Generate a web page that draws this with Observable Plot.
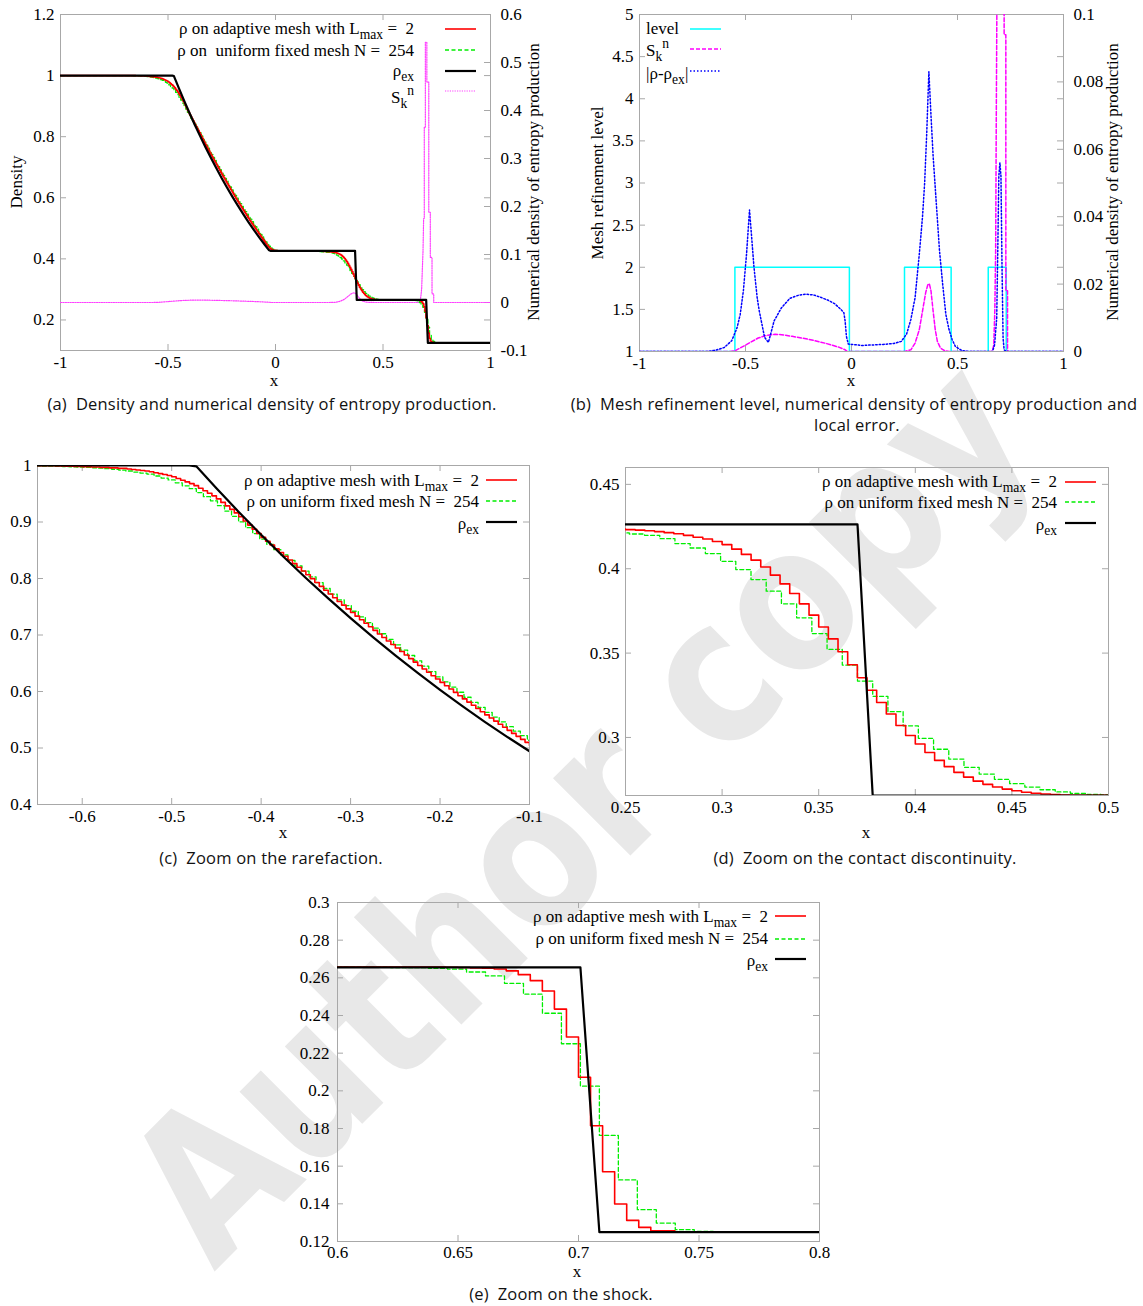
<!DOCTYPE html>
<html><head><meta charset="utf-8">
<script src="https://cdn.jsdelivr.net/npm/d3@7"></script>
<script src="https://cdn.jsdelivr.net/npm/@observablehq/plot@0.6"></script>
<style>
html,body{margin:0;padding:0;background:#fff}
body{width:1143px;height:1306px;position:relative;overflow:hidden}
.lbl{position:absolute;font-family:"Liberation Serif","Times New Roman",serif;font-size:17px;white-space:pre;line-height:1;color:#000}
.lbl sub{font-size:0.8em;vertical-align:-0.38em;line-height:0}
.lbl sup{font-size:0.8em;vertical-align:0.55em;line-height:0}
.cap{position:absolute;font-family:"Open Sans",sans-serif;font-size:16.5px;letter-spacing:0.2px;white-space:pre;line-height:1;color:#111}
svg.abs{position:absolute}
svg.abs text{font-family:"Liberation Serif","Times New Roman",serif}
</style></head><body>
<script>
// ======================= DATA =======================
const h = 2 / 254;                       // uniform mesh cell width (N = 254)
// tick values
const xTicksFull = [-1, -0.5, 0, 0.5, 1];
const yTicksA = [0.2, 0.4, 0.6, 0.8, 1, 1.2];
const y2TicksA = [-0.1, 0, 0.1, 0.2, 0.3, 0.4, 0.5, 0.6];
const yTicksB = [1, 1.5, 2, 2.5, 3, 3.5, 4, 4.5, 5];
const y2TicksB = [0, 0.02, 0.04, 0.06, 0.08, 0.1];
const xTicksC = [-0.6, -0.5, -0.4, -0.3, -0.2, -0.1];
const yTicksC = [0.4, 0.5, 0.6, 0.7, 0.8, 0.9, 1];
const xTicksD = [0.25, 0.3, 0.35, 0.4, 0.45, 0.5];
const yTicksD = [0.3, 0.35, 0.4, 0.45];
const xTicksE = [0.6, 0.65, 0.7, 0.75, 0.8];
const yTicksE = [0.12, 0.14, 0.16, 0.18, 0.2, 0.22, 0.24, 0.26, 0.28, 0.3];

// density on adaptive mesh (L_max = 2): cell values, grouped by mesh blocks
const redCoarseLeft = [0.9999, 0.9998, 0.9997, 0.9995, 0.9992, 0.9989, 0.9985, 0.9980, 0.9974, 0.9966, 0.9958, 0.9950];
const redRarefaction = [
  0.9939, 0.9930, 0.9921, 0.9912, 0.9903, 0.9890, 0.9873, 0.9857, 0.9840, 0.9823,
  0.9800, 0.9770, 0.9740, 0.9710, 0.9680, 0.9643, 0.9598, 0.9553, 0.9508, 0.9463,
  0.9409, 0.9347, 0.9285, 0.9223, 0.9161, 0.9093, 0.9019, 0.8945, 0.8871, 0.8797,
  0.8727, 0.8660, 0.8593, 0.8526, 0.8459, 0.8393, 0.8328, 0.8263, 0.8198, 0.8133,
  0.8066, 0.7997, 0.7929, 0.7861, 0.7792, 0.7725, 0.7659, 0.7594, 0.7528, 0.7462,
  0.7397, 0.7334, 0.7271, 0.7208, 0.7145, 0.7082, 0.7019, 0.6957, 0.6894, 0.6831,
  0.6769, 0.6707, 0.6645, 0.6582, 0.6520, 0.6459, 0.6399, 0.6340, 0.6280, 0.6220,
  0.6161, 0.6102, 0.6044, 0.5985, 0.5926, 0.5869, 0.5812, 0.5756, 0.5699, 0.5642,
  0.5586, 0.5531, 0.5476, 0.5421, 0.5366, 0.5312, 0.5258, 0.5206, 0.5153, 0.5100,
  0.5048, 0.4997, 0.4946, 0.4895, 0.4844, 0.4793, 0.4744, 0.4695, 0.4646, 0.4597,
  0.4547, 0.4496, 0.4448, 0.4403, 0.4365, 0.4335, 0.4311, 0.4294];
const redTail = [0.4278, 0.4270, 0.4267, 0.4265, 0.4264];
const redPreContact = [0.4262, 0.4261, 0.4259, 0.4257, 0.4254, 0.4251, 0.4247, 0.4243, 0.4239, 0.4235];
const redContact = [
  0.4232, 0.4229, 0.4225, 0.4220, 0.4214, 0.4207, 0.4198, 0.4187, 0.4176, 0.4161,
  0.4143, 0.4116, 0.4085, 0.4051, 0.4010, 0.3962, 0.3910, 0.3853, 0.3792, 0.3725,
  0.3655, 0.3584, 0.3508, 0.3431, 0.3354, 0.3280, 0.3207, 0.3139, 0.3071, 0.3012,
  0.2961, 0.2911, 0.2864, 0.2827, 0.2793, 0.2765, 0.2741, 0.2722, 0.2706, 0.2694,
  0.2684, 0.2675, 0.2669, 0.2665, 0.2661, 0.2659];
const redShock = [0.2656, 0.2655, 0.2653, 0.2651, 0.2647, 0.2637, 0.2617, 0.2585, 0.2530, 0.2434,
  0.2286, 0.2072, 0.1815, 0.1570, 0.1399, 0.1312, 0.1275];
const redPostShock = [0.1257, 0.1251];

// density on uniform fixed mesh N = 254: cell values
const greenRarefaction = [ // cells 37..131
  0.9999, 0.9999, 0.9998, 0.9998, 0.9997, 0.9996, 0.9994, 0.9993, 0.9990, 0.9988,
  0.9985, 0.9981, 0.9977, 0.9973, 0.9967, 0.9960, 0.9953, 0.9944, 0.9931, 0.9918,
  0.9903, 0.9884, 0.9866, 0.9847, 0.9814, 0.9778, 0.9745, 0.9693, 0.9641, 0.9589,
  0.9520, 0.9448, 0.9375, 0.9289, 0.9194, 0.9100, 0.9003, 0.8899, 0.8795, 0.8697,
  0.8604, 0.8511, 0.8418, 0.8321, 0.8225, 0.8129, 0.8029, 0.7926, 0.7823, 0.7722,
  0.7621, 0.7521, 0.7420, 0.7320, 0.7220, 0.7121, 0.7022, 0.6923, 0.6826, 0.6731,
  0.6637, 0.6543, 0.6449, 0.6353, 0.6260, 0.6169, 0.6078, 0.5987, 0.5898, 0.5807,
  0.5718, 0.5632, 0.5547, 0.5461, 0.5378, 0.5298, 0.5218, 0.5137, 0.5054, 0.4971,
  0.4886, 0.4801, 0.4718, 0.4634, 0.4553, 0.4479, 0.4413, 0.4358, 0.4319, 0.4292,
  0.4276, 0.4270, 0.4267, 0.4266, 0.4265];
const greenContact = [ // cells 141..190
  0.4263, 0.4263, 0.4263, 0.4263, 0.4263, 0.4262, 0.4260, 0.4258, 0.4255, 0.4251,
  0.4246, 0.4241, 0.4236, 0.4231, 0.4226, 0.4221, 0.4216, 0.4212, 0.4206, 0.4198,
  0.4178, 0.4149, 0.4123, 0.4090, 0.4044, 0.3995, 0.3936, 0.3867, 0.3792, 0.3709,
  0.3616, 0.3522, 0.3429, 0.3334, 0.3244, 0.3153, 0.3069, 0.2995, 0.2930, 0.2872,
  0.2823, 0.2783, 0.2752, 0.2726, 0.2706, 0.2690, 0.2677, 0.2668, 0.2663, 0.2659];
const greenShock = [ // cells 206..223
  0.2655, 0.2654, 0.2651, 0.2646, 0.2631, 0.2610, 0.2571, 0.2513, 0.2412, 0.2250,
  0.2025, 0.1763, 0.1527, 0.1369, 0.1298, 0.1263, 0.1254, 0.1251];

// exact density
const exX = [-1, -0.48031, -0.47244, -0.45, -0.425, -0.4, -0.375, -0.35, -0.325, -0.3, -0.275, -0.25, -0.225, -0.2, -0.175, -0.15, -0.125, -0.1, -0.075, -0.05, -0.0315, -0.02362, 0.37008, 0.37795, 0.70079, 0.70866, 1];
const exY = [1, 1, 0.9985, 0.9597, 0.9178, 0.8774, 0.8385, 0.8010, 0.7648, 0.7299, 0.6963, 0.6640, 0.6329, 0.6030, 0.5742, 0.5464, 0.5198, 0.4943, 0.4698, 0.4462, 0.4293, 0.4263, 0.4263, 0.2656, 0.2656, 0.125, 0.125];

// numerical density of entropy production S_k^n
const sX = [-1, -0.57, -0.55, -0.52, -0.48, -0.44, -0.40, -0.36, -0.33, -0.28, -0.2, -0.12, -0.06, -0.03, -0.02, 0.25, 0.28, 0.30, 0.32, 0.335, 0.35, 0.36, 0.367, 0.375, 0.385, 0.395, 0.405, 0.42, 0.44, 0.46, 0.665, 0.671, 0.676, 0.68, 0.683, 0.686, 0.689, 0.692, 0.692, 0.697, 0.697, 0.704, 0.704, 0.713, 0.713, 0.72, 0.72, 0.728, 0.728, 0.736, 0.736, 1];
const sV = [0, 0, 0.0002, 0.0012, 0.0026, 0.0040, 0.0048, 0.0051, 0.0050, 0.0045, 0.0036, 0.0024, 0.0013, 0.0005, 0, 0, 0.0005, 0.0025, 0.0065, 0.012, 0.0175, 0.0198, 0.0201, 0.018, 0.012, 0.0065, 0.003, 0.001, 0.0002, 0, 0, 0.002, 0.012, 0.03, 0.07, 0.105, 0.175, 0.175, 0.365, 0.365, 0.542, 0.542, 0.459, 0.459, 0.188, 0.188, 0.094, 0.094, 0.018, 0.018, 0, 0];

// local error |rho - rho_ex|
const errX = [-1, -0.68, -0.64, -0.6, -0.565, -0.54, -0.525, -0.51, -0.495, -0.481, -0.46, -0.445, -0.435, -0.41, -0.392, -0.38, -0.365, -0.33, -0.29, -0.25, -0.218, -0.18, -0.15, -0.11, -0.08, -0.05, -0.036, -0.03, -0.024, -0.015, 0.05, 0.15, 0.2, 0.235, 0.26, 0.28, 0.30, 0.32, 0.335, 0.345, 0.355, 0.365, 0.375, 0.385, 0.40, 0.415, 0.43, 0.445, 0.46, 0.475, 0.49, 0.52, 0.55, 0.665, 0.675, 0.685, 0.69, 0.695, 0.70, 0.705, 0.71, 0.715, 0.72, 0.73, 1];
const errV = [0, 0, 0.0004, 0.0012, 0.0032, 0.007, 0.011, 0.018, 0.029, 0.042, 0.025, 0.016, 0.012, 0.0042, 0.0027, 0.0055, 0.0091, 0.013, 0.0158, 0.0167, 0.0170, 0.0168, 0.0162, 0.0152, 0.0142, 0.0125, 0.0115, 0.0090, 0.0045, 0.0022, 0.0018, 0.0021, 0.0024, 0.003, 0.0052, 0.0095, 0.016, 0.029, 0.040, 0.050, 0.065, 0.083, 0.070, 0.058, 0.044, 0.030, 0.020, 0.011, 0.0065, 0.0035, 0.0015, 0.0003, 0, 0, 0.002, 0.010, 0.030, 0.052, 0.056, 0.052, 0.025, 0.004, 0.0005, 0, 0];

// mesh refinement level
const levelEdges = [-1, -0.55, -0.01, 0.25, 0.47, 0.645, 0.73, 1];
const levelValues = [1, 2, 1, 2, 1, 2, 1];

// ======================= BUILD SERIES =======================
function stepPoints(segs) {
  const pts = [];
  for (const [x0, dx, vals] of segs)
    vals.forEach((v, i) => { pts.push({x: x0 + i * dx, y: v}, {x: x0 + (i + 1) * dx, y: v}); });
  return pts;
}
const red = stepPoints([
  [-1, 0.33, [1]],
  [-0.67, 0.01, redCoarseLeft],
  [-0.55, 0.005, redRarefaction],
  [-0.01, 0.01, redTail],
  [0.04, 0.11, [0.4263]],
  [0.15, 0.01, redPreContact],
  [0.25, 0.005, redContact],
  [0.48, 0.165, [0.2657]],
  [0.645, 0.005, redShock],
  [0.73, 0.01, redPostShock],
  [0.75, 0.25, [0.125]]
]);
const green = stepPoints([
  [-1, 37 * h, [1]],
  [-1 + 37 * h, h, greenRarefaction],
  [-1 + 132 * h, 9 * h, [0.4264]],
  [-1 + 141 * h, h, greenContact],
  [-1 + 191 * h, 15 * h, [0.2657]],
  [-1 + 206 * h, h, greenShock],
  [-1 + 224 * h, 30 * h, [0.125]]
]);
const exact = exX.map((x, i) => ({x, y: exY[i]}));
const sData = sX.map((x, i) => ({x, s: sV[i]}));
const errData = errX.map((x, i) => ({x, e: errV[i]}));
const level = [];
levelValues.forEach((v, i) => { level.push({x: levelEdges[i], y: v}, {x: levelEdges[i + 1], y: v}); });

// ======================= STYLES =======================
const SERIF = "Liberation Serif";
const FRAME = "#a8a8a8";
const RED = {stroke: "#ff0000", strokeWidth: 1.6};
const GREEN = {stroke: "#00ee00", strokeWidth: 1.3, strokeDasharray: "4,2.5"};
const BLACK = {stroke: "#000", strokeWidth: 2.2};
const fmt = v => String(Math.round(v * 1e6) / 1e6);

function makePanel(o) {
  const fw = o.fr - o.fl, fh = o.fb - o.ft;
  const txtOpts = {fontFamily: SERIF, fontSize: 17, label: null, tickSize: 0};
  const marks = [
    Plot.frame({stroke: FRAME, strokeWidth: 1}),
    Plot.ruleX(o.xTicks, {insetBottom: fh - 6, stroke: FRAME}),
    Plot.ruleX(o.xTicks, {insetTop: fh - 6, stroke: FRAME}),
    Plot.ruleY(o.yTicks, {insetRight: fw - 6, stroke: FRAME}),
    Plot.ruleY(o.yTicks, {insetLeft: fw - 6, stroke: FRAME}),
    Plot.axisX(o.xTicks, {...txtOpts, tickPadding: o.xPad ?? 5, tickFormat: fmt}),
    Plot.axisY(o.yTicks, {...txtOpts, tickPadding: o.yPad ?? 6, tickFormat: fmt})
  ];
  if (o.y2Ticks) {
    const t2 = o.y2Ticks.map(o.toL);
    marks.push(Plot.ruleY(t2, {insetLeft: fw - 6, stroke: FRAME}));
    marks.push(Plot.axisY(t2, {...txtOpts, anchor: "right", tickPadding: 10, tickFormat: v => fmt(o.fromL(v))}));
  }
  marks.push(...o.marks);
  const svg = Plot.plot({
    width: o.right - o.left, height: o.bottom - o.top,
    marginLeft: o.fl - o.left, marginRight: o.right - o.fr,
    marginTop: o.ft - o.top, marginBottom: o.bottom - o.fb,
    x: {domain: o.xDomain}, y: {domain: o.yDomain},
    style: {fontFamily: SERIF, fontSize: "17px", background: "transparent", overflow: "visible", color: "#000"},
    marks
  });
  svg.classList.add("abs");
  svg.style.left = o.left + "px"; svg.style.top = o.top + "px";
  svg.querySelectorAll("text").forEach(t => { t.style.fontFamily = "'Liberation Serif', serif"; });
  document.body.appendChild(svg);
}

// ======================= WATERMARK =======================
const wm = d3.select("body").append("svg").attr("class", "abs").attr("width", 1143).attr("height", 1306)
  .style("left", "0px").style("top", "0px");
wm.append("text").attr("x", 0).attr("y", 0).attr("transform", "translate(214 1272) rotate(-45) scale(0.854 1)")
  .style("font-family", "DejaVu Sans").attr("font-weight", "bold").attr("font-size", 200)
  .attr("fill", "#e8e8e8").text("Author copy");

// ======================= PANELS =======================
const toLA = s => 0.1 + (s + 0.1) * 1.1 / 0.7, fromLA = v => (v - 0.1) * 0.7 / 1.1 - 0.1;
const toLB = s => 1 + s * 40, fromLB = v => (v - 1) / 40;

makePanel({left: 0, top: 0, right: 560, bottom: 392, fl: 60, ft: 14, fr: 490, fb: 350,
  xDomain: [-1, 1], yDomain: [0.1, 1.2], xTicks: xTicksFull, yTicks: yTicksA,
  y2Ticks: y2TicksA, toL: toLA, fromL: fromLA,
  marks: [
    Plot.line(sData, {x: "x", y: d => toLA(d.s), stroke: "#ff40ff", strokeWidth: 1.2, strokeDasharray: "1.2,1.2", clip: true}),
    Plot.line(green, {x: "x", y: "y", ...GREEN, clip: true}),
    Plot.line(red, {x: "x", y: "y", ...RED, clip: true}),
    Plot.line(exact, {x: "x", y: "y", ...BLACK, clip: true})
  ]});

makePanel({left: 570, top: 0, right: 1143, bottom: 392, fl: 639, ft: 14, fr: 1063, fb: 351,
  xDomain: [-1, 1], yDomain: [1, 5], xTicks: xTicksFull, yTicks: yTicksB,
  y2Ticks: y2TicksB, toL: toLB, fromL: fromLB,
  marks: [
    Plot.line(level, {x: "x", y: "y", stroke: "#00ffff", strokeWidth: 1.5, clip: true}),
    Plot.line(sData, {x: "x", y: d => toLB(d.s), stroke: "#ff00ff", strokeWidth: 1.5, strokeDasharray: "4,2", clip: true}),
    Plot.line(errData, {x: "x", y: d => toLB(d.e), stroke: "#0000ff", strokeWidth: 1.5, strokeDasharray: "1.5,2", clip: true})
  ]});

const zoomMarks = [
  Plot.line(green, {x: "x", y: "y", ...GREEN, clip: true}),
  Plot.line(red, {x: "x", y: "y", ...RED, clip: true}),
  Plot.line(exact, {x: "x", y: "y", ...BLACK, clip: true})
];
makePanel({left: 0, top: 450, right: 565, bottom: 845, fl: 37, ft: 465, fr: 529, fb: 804,
  xDomain: [-0.65, -0.1], yDomain: [0.4, 1], xTicks: xTicksC, yTicks: yTicksC, marks: zoomMarks});
makePanel({left: 565, top: 450, right: 1143, bottom: 845, fl: 625, ft: 467, fr: 1108, fb: 795,
  xDomain: [0.25, 0.5], yDomain: [0.2656, 0.46], xTicks: xTicksD, yTicks: yTicksD, marks: zoomMarks});
makePanel({left: 270, top: 890, right: 870, bottom: 1285, fl: 337, ft: 902, fr: 819, fb: 1241,
  xDomain: [0.6, 0.8], yDomain: [0.12, 0.3], xTicks: xTicksE, yTicks: yTicksE, xPad: 4, yPad: 8, marks: zoomMarks});

// ======================= TEXT OVERLAYS =======================
function txt(html, x, y, anchor, cls = "lbl", rotate = 0) {
  const d = document.createElement("div");
  d.className = cls; d.innerHTML = html;
  d.style.left = x + "px"; d.style.top = y + "px";
  const tx = anchor === "end" ? "-100%" : anchor === "middle" ? "-50%" : "0";
  d.style.transform = `translate(${tx}, -50%)` + (rotate ? ` rotate(${rotate}deg)` : "");
  document.body.appendChild(d);
}
const ov = d3.select("body").append("svg").attr("class", "abs").attr("width", 1143).attr("height", 1306)
  .style("left", "0px").style("top", "0px");
function sample(x1, x2, y, st) {
  ov.append("line").attr("x1", x1).attr("x2", x2).attr("y1", y).attr("y2", y)
    .attr("stroke", st.stroke).attr("stroke-width", st.strokeWidth).attr("stroke-dasharray", st.strokeDasharray || null);
}
const L1 = "ρ on adaptive mesh with L<sub>max</sub> =  2";
const L2 = "ρ on uniform fixed mesh N =  254";
const L3 = "ρ<sub>ex</sub>";
const LS = "S<sub>k</sub><sup>n</sup>";

// panel (a)
txt(L1, 414, 28, "end"); sample(445, 476, 29, RED);
txt("ρ on  uniform fixed mesh N =  254", 414, 50, "end"); sample(445, 476, 50, GREEN);
txt(L3, 414, 70, "end"); sample(445, 476, 71, BLACK);
txt(LS, 414, 97, "end"); sample(445, 476, 91, {stroke: "#ff40ff", strokeWidth: 1.2, strokeDasharray: "1.2,1.2"});
txt("Density", 16, 182, "middle", "lbl", -90);
txt("Numerical density of entropy production", 533, 182, "middle", "lbl", -90);
txt("x", 274, 380, "middle");
txt("(a)  Density and numerical density of entropy production.", 272, 404, "middle", "cap");

// panel (b)
txt("level", 646, 28, "start"); sample(690, 721, 29, {stroke: "#00ffff", strokeWidth: 1.5});
txt(LS, 646, 50, "start"); sample(690, 721, 49, {stroke: "#ff00ff", strokeWidth: 1.5, strokeDasharray: "4,2"});
txt("|ρ-ρ<sub>ex</sub>|", 646, 73, "start"); sample(690, 721, 71, {stroke: "#0000ff", strokeWidth: 1.5, strokeDasharray: "1.5,2"});
txt("Mesh refinement level", 597, 183, "middle", "lbl", -90);
txt("Numerical density of entropy production", 1112, 182, "middle", "lbl", -90);
txt("x", 851, 380, "middle");
txt("(b)  Mesh refinement level, numerical density of entropy production and", 854, 404, "middle", "cap");
txt("local error.", 857, 425, "middle", "cap");

// panel (c)
txt(L1, 479, 480, "end"); sample(486, 517, 480, RED);
txt(L2, 479, 501, "end"); sample(486, 517, 501, GREEN);
txt(L3, 479, 523, "end"); sample(486, 517, 522, BLACK);
txt("x", 283, 832, "middle");
txt("(c)  Zoom on the rarefaction.", 271, 858, "middle", "cap");

// panel (d)
txt(L1, 1057, 481, "end"); sample(1065, 1096, 482, RED);
txt(L2, 1057, 502, "end"); sample(1065, 1096, 502, GREEN);
txt(L3, 1057, 524, "end"); sample(1065, 1096, 523, BLACK);
txt("x", 866, 832, "middle");
txt("(d)  Zoom on the contact discontinuity.", 865, 858, "middle", "cap");

// panel (e)
txt(L1, 768, 916, "end"); sample(775, 806, 916, RED);
txt(L2, 768, 938, "end"); sample(775, 806, 939, GREEN);
txt(L3, 768, 960, "end"); sample(775, 806, 959, BLACK);
txt("x", 577, 1271, "middle");
txt("(e)  Zoom on the shock.", 561, 1294, "middle", "cap");
</script>
</body></html>
